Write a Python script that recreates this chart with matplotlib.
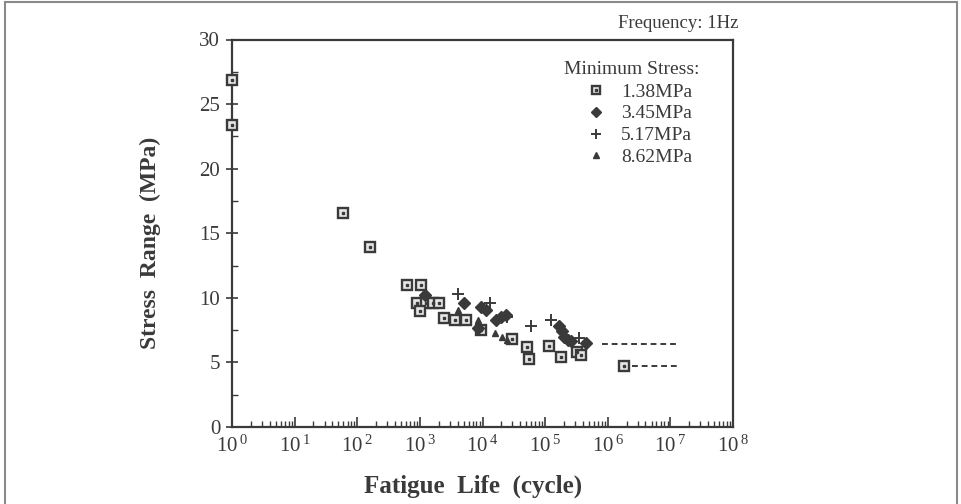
import numpy as np
import matplotlib
matplotlib.use("Agg")
from matplotlib import pyplot as plt
from matplotlib.ticker import FixedLocator, FuncFormatter, LogLocator, NullFormatter
from matplotlib.legend_handler import HandlerTuple
from matplotlib.patches import Rectangle

# data (cycles, stress range in MPa)
life_138 = [1, 1, 60, 162, 630, 1050, 910, 1230, 1600, 2000, 1000, 2400, 3600, 5500,
            9500, 30000, 52000, 56000, 115000, 180000, 320000, 380000, 1800000]
stress_138 = [26.9, 23.4, 16.6, 13.9, 11.0, 11.0, 9.6, 9.6, 9.6, 9.6, 9.0, 8.45, 8.25, 8.25,
              7.5, 6.8, 6.2, 5.3, 6.25, 5.45, 5.8, 5.6, 4.75]

life_345 = [1200, 5100, 9500, 11500, 8500, 16500, 20000, 24000, 165000, 185000, 200000,
            230000, 260000, 450000]
stress_345 = [10.25, 9.6, 9.3, 9.05, 7.7, 8.25, 8.5, 8.7, 7.85, 7.45, 6.95, 6.7, 6.65, 6.5]

life_517 = [4100, 13000, 25000, 59000, 123000, 350000]
stress_517 = [10.3, 9.6, 8.55, 7.8, 8.3, 6.9]

life_862 = [4100, 8500, 16000, 20500, 25000]
stress_862 = [9.05, 8.25, 7.3, 6.95, 6.75]

labels = ["1.38MPa", "3.45MPa", "5.17MPa", "8.62MPa"]

# run-out (no failure) lines
runout_upper_x = [810000, 13500000]
runout_upper_y = [6.45, 6.45]
runout_lower_x = [2400000, 13500000]
runout_lower_y = [4.75, 4.75]

ink = "#3a3a3a"
plt.rcParams["font.family"] = ["Liberation Serif", "DejaVu Serif"]
plt.rcParams["mathtext.fontset"] = "custom"
plt.rcParams["mathtext.rm"] = "Liberation Serif"
plt.rcParams["text.color"] = ink
plt.rcParams["xtick.color"] = ink
plt.rcParams["ytick.color"] = ink

W, H = 961, 504
fig = plt.figure(figsize=(9.61, 5.04), dpi=100)
fig.patch.set_facecolor("white")
fig.patches.append(Rectangle((5 / W, -0.05), 952 / W, 1.05 - 2 / H, transform=fig.transFigure,
                             fill=False, edgecolor="#8a8a8a", linewidth=1.5))

ax = fig.add_axes([232 / W, 1 - 427 / H, 501 / W, 387.5 / H])
ax.set_xscale("log")
ax.set_xlim(1, 1e8)
ax.set_ylim(0, 30)

# squares with a dot in the middle
sq_out, = ax.plot(life_138, stress_138, ls="none", marker="s", ms=7.5, mfc="#e6e6e6",
                  mec=ink, mew=1.7, clip_on=False, zorder=3)
sq_in, = ax.plot(life_138, stress_138, ls="none", marker="s", ms=2, mfc=ink, mec=ink,
                 clip_on=False, zorder=4)
dia, = ax.plot(life_345, stress_345, ls="none", marker="D", ms=6.5, mfc=ink, mec=ink, zorder=3)
plus, = ax.plot(life_517, stress_517, ls="none", marker="+", ms=9, mew=1.4, color=ink, zorder=3)
tri, = ax.plot(life_862, stress_862, ls="none", marker="^", ms=4.5, mfc=ink, mec=ink, zorder=3)

ax.plot(runout_upper_x, runout_upper_y, ls=(0, (3, 2)), lw=1.4, color=ink)
ax.plot(runout_lower_x, runout_lower_y, ls=(0, (3, 2)), lw=1.4, color=ink)

for s in ["left", "bottom", "top", "right"]:
    ax.spines[s].set_color(ink)
    ax.spines[s].set_linewidth(1.6)

ax.yaxis.set_major_locator(FixedLocator([0, 5, 10, 15, 20, 25, 30]))
ax.yaxis.set_minor_locator(FixedLocator([2.5, 7.5, 12.5, 17.5, 22.5, 27.5]))
ax.xaxis.set_major_locator(LogLocator(base=10, numticks=12))
ax.xaxis.set_minor_locator(LogLocator(base=10, subs=np.arange(2, 10), numticks=12))
ax.xaxis.set_minor_formatter(NullFormatter())
ax.xaxis.set_major_formatter(FuncFormatter(lambda v, p: r"$\mathregular{10^{\,%d}}$" % round(np.log10(v))))

ax.tick_params(axis="y", which="major", direction="inout", length=9, width=1.2, labelsize=15, pad=4)
ax.tick_params(axis="y", which="minor", direction="in", length=4, width=1.0)
ax.tick_params(axis="x", which="major", direction="in", length=7, width=1.2, labelsize=15, pad=6)
ax.tick_params(axis="x", which="minor", direction="in", length=4, width=1.0)

fig.text(150 / W, 1 - 243 / H, "Stress  Range  (MPa)", rotation=90, ha="center", va="center",
         fontsize=17, fontweight="bold")
fig.text(473 / W, 1 - 486 / H, "Fatigue  Life  (cycle)", ha="center", va="center",
         fontsize=18, fontweight="bold")

fig.text(738 / W, 1 - 23 / H, "Frequency: 1Hz", ha="right", va="center", fontsize=13.5)

# legend: title drawn as text, entries indented under it
fig.text(564 / W, 1 - 69 / H, "Minimum Stress:", ha="left", va="center", fontsize=14)
leg = ax.legend([(sq_out, sq_in), dia, plus, tri], labels,
                handler_map={tuple: HandlerTuple(ndivide=1, pad=0)},
                loc="upper left", bbox_to_anchor=((586 - 232) / 501, (427 - 83) / 387.5),
                frameon=False, fontsize=14, handlelength=1.0, handletextpad=0.8,
                labelspacing=0.22, borderaxespad=0, borderpad=0, markerscale=0.85)

fig.savefig("out.png", dpi=100, facecolor="white")
